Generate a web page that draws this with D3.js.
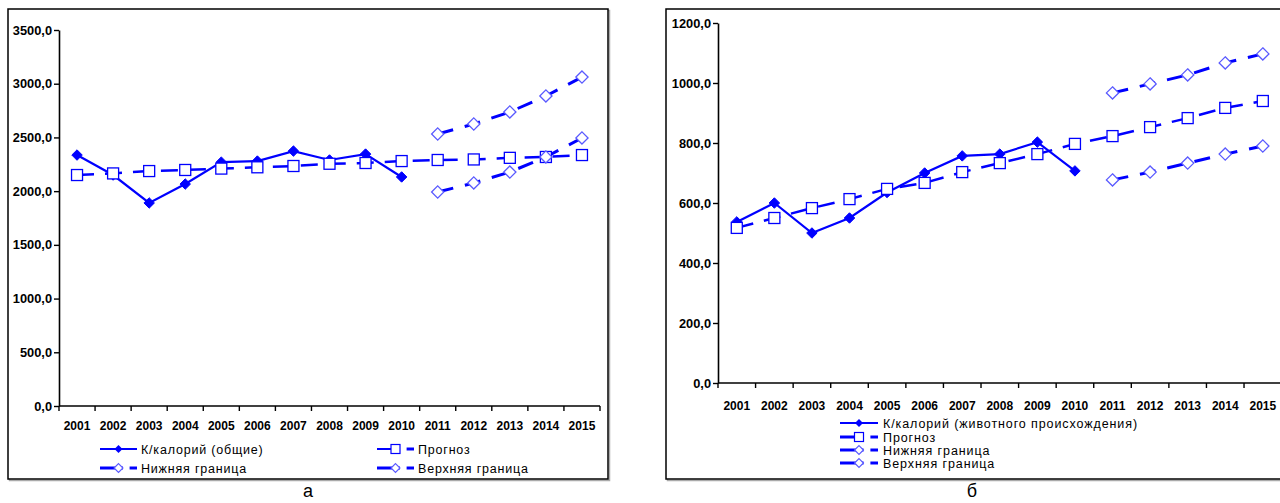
<!DOCTYPE html>
<html><head><meta charset="utf-8">
<script src="https://cdn.jsdelivr.net/npm/d3@7"></script>
<style>
body{margin:0;background:#fff;}
svg{display:block;}
text{font-family:"Liberation Sans",Arial,sans-serif;}
</style></head>
<body>
<svg id="c" width="1280" height="503"></svg>
<script>
const years = ["2001","2002","2003","2004","2005","2006","2007","2008","2009","2010","2011","2012","2013","2014","2015"];
const forecastYears = ["2011","2012","2013","2014","2015"];

// Chart a: total calories
const aActual   = [2336, 2150, 1890, 2066, 2270, 2280, 2373, 2290, 2345, 2132];
const aForecast = [2150, 2165, 2187, 2197, 2210, 2222, 2234, 2255, 2262, 2280, 2290, 2295, 2310, 2318, 2336];
const aLower    = [1992, 2076, 2178, 2318, 2495];
const aUpper    = [2532, 2625, 2737, 2886, 3062];
const aTicks    = [0, 500, 1000, 1500, 2000, 2500, 3000, 3500];

// Chart б: calories of animal origin
const bActual   = [537, 600, 500, 550, 635, 700, 757, 763, 803, 707];
const bForecast = [517, 550, 583, 613, 647, 667, 703, 733, 763, 797, 823, 853, 883, 917, 940];
const bLower    = [677, 703, 733, 763, 790];
const bUpper    = [967, 997, 1027, 1067, 1097];
const bTicks    = [0, 200, 400, 600, 800, 1000, 1200];

const aLegend = ["К/калорий (общие)", "Прогноз", "Нижняя граница", "Верхняя граница"];
const bLegend = ["К/калорий (животного происхождения)", "Прогноз", "Нижняя граница", "Верхняя граница"];

const svg = d3.select("#c");
const BLUE = "#0000ff", LIGHT = "#5a5aff";
const fmt = v => d3.format(".1f")(v).replace(".", ",");

function drawChart(cfg){
  const g = svg.append("g");
  // frame
  g.append("rect").attr("x", cfg.frame[0]+1.5).attr("y", cfg.frame[1]+1.5)
    .attr("width", cfg.frame[2]).attr("height", cfg.frame[3])
    .attr("fill","none").attr("stroke","#aaa").attr("stroke-width",1.5);
  g.append("rect").attr("x", cfg.frame[0]).attr("y", cfg.frame[1])
    .attr("width", cfg.frame[2]).attr("height", cfg.frame[3])
    .attr("fill","#fff").attr("stroke","#000").attr("stroke-width",1.5);

  const x = d3.scaleBand().domain(years).range(cfg.xr);
  const y = d3.scaleLinear().domain([0, cfg.ymax]).range(cfg.yr);
  const cx = d => x(d) + x.bandwidth()/2;

  // y axis
  const ya = g.append("g").attr("transform",`translate(${cfg.xr[0]},0)`)
    .call(d3.axisLeft(y).tickValues(cfg.ticks).tickFormat(fmt).tickSize(5).tickSizeOuter(0));
  ya.select(".domain").attr("stroke","#000").attr("stroke-width",1.6);
  ya.selectAll(".tick line").attr("stroke","#000").attr("stroke-width",1.4);
  ya.selectAll("text").attr("font-size",12.8).attr("font-weight","bold").attr("fill","#000").attr("x",-7);

  // x axis (ticks between categories)
  const xa = g.append("g").attr("transform",`translate(0,${cfg.yr[0]})`);
  xa.append("line").attr("x1",cfg.xr[0]).attr("x2",cfg.xr[1]).attr("stroke","#000").attr("stroke-width",1.6);
  const bounds = years.map(d => x(d)).concat([cfg.xr[1]]);
  xa.selectAll("line.t").data(bounds).join("line").attr("class","t")
    .attr("x1",d=>d).attr("x2",d=>d).attr("y1",0).attr("y2",5).attr("stroke","#000").attr("stroke-width",1.4);
  xa.selectAll("text").data(years).join("text")
    .attr("x", d=>cx(d)).attr("y", cfg.xlabDy).attr("text-anchor","middle")
    .attr("font-size",12).attr("font-weight","bold").text(d=>d);

  const line = d3.line().x(d=>cx(d[0])).y(d=>y(d[1]));
  const actual = cfg.actual.map((v,i)=>[years[i], v]);
  const fc = cfg.forecast.map((v,i)=>[years[i], v]);
  const lo = cfg.lower.map((v,i)=>[forecastYears[i], v]);
  const up = cfg.upper.map((v,i)=>[forecastYears[i], v]);

  g.append("path").attr("d", line(fc)).attr("fill","none").attr("stroke",BLUE)
    .attr("stroke-width",2.5).attr("stroke-dasharray","17,11");
  g.append("path").attr("d", line(lo)).attr("fill","none").attr("stroke",BLUE)
    .attr("stroke-width",3).attr("stroke-dasharray","16,12");
  g.append("path").attr("d", line(up)).attr("fill","none").attr("stroke",BLUE)
    .attr("stroke-width",3).attr("stroke-dasharray","16,12");
  g.append("path").attr("d", line(actual)).attr("fill","none").attr("stroke",BLUE).attr("stroke-width",2.2);

  const dia = d3.symbol().type(d3.symbolDiamond2);
  g.selectAll("path.act").data(actual).join("path").attr("class","act")
    .attr("d", dia.size(70)()).attr("transform", d=>`translate(${cx(d[0])},${y(d[1])})`)
    .attr("fill",BLUE).attr("stroke",BLUE);
  g.selectAll("rect.fc").data(fc).join("rect").attr("class","fc")
    .attr("x", d=>cx(d[0])-5.5).attr("y", d=>y(d[1])-5.5).attr("width",11).attr("height",11)
    .attr("fill","#fff").attr("stroke",BLUE).attr("stroke-width",1.3);
  [lo, up].forEach(arr=>{
    g.selectAll(null).data(arr).join("path")
      .attr("d", d3.symbol().type(d3.symbolDiamond2).size(95)())
      .attr("transform", d=>`translate(${cx(d[0])},${y(d[1])})`)
      .attr("fill","#fff").attr("stroke",LIGHT).attr("stroke-width",1.3);
  });

  // legend
  const kinds = ["act","fc","lo","up"];
  cfg.legend.forEach((t,i)=>{
    const p = cfg.legPos[i];
    const lg = g.append("g").attr("transform",`translate(${p[0]},${p[1]})`);
    const k = kinds[i];
    const w = cfg.legW;
    if(k==="act"){
      lg.append("line").attr("x1",0).attr("x2",w).attr("stroke",BLUE).attr("stroke-width",2);
      lg.append("path").attr("d",dia.size(40)()).attr("transform",`translate(${w/2},0)`).attr("fill",BLUE);
    } else {
      const sw = k==="fc" ? cfg.fcLegW : 3;
      lg.append("line").attr("x1",0).attr("x2",w*0.62).attr("stroke",BLUE).attr("stroke-width",sw);
      lg.append("line").attr("x1",w*0.8).attr("x2",w).attr("stroke",BLUE).attr("stroke-width",3);
      if(k==="fc"){
        lg.append("rect").attr("x",w/2-4.5).attr("y",-4.5).attr("width",9).attr("height",9)
          .attr("fill","#fff").attr("stroke",BLUE).attr("stroke-width",1.2);
      } else {
        lg.append("path").attr("d",d3.symbol().type(d3.symbolDiamond2).size(50)())
          .attr("transform",`translate(${w/2},0)`).attr("fill","#fff").attr("stroke",LIGHT).attr("stroke-width",1.2);
      }
    }
    lg.append("text").attr("x",w+cfg.textGap).attr("y",4.5).attr("font-size",cfg.legFont)
      .attr("letter-spacing",cfg.legLS).attr("fill","#000").text(t);
  });

  svg.append("text").attr("x",cfg.cap[0]).attr("y",cfg.cap[1]).attr("text-anchor","middle")
    .attr("font-size",18).attr("fill","#000").text(cfg.capText);
}

drawChart({
  frame:[8,9,600,470], xr:[59,600], yr:[406,30], ymax:3500, ticks:aTicks, xlabDy:23.5,
  actual:aActual, forecast:aForecast, lower:aLower, upper:aUpper, legend:aLegend,
  legPos:[[100,449],[377,449],[100,468],[377,468]], legW:37, fcLegW:2, textGap:4, legFont:12.5, legLS:0.8,
  cap:[308,497], capText:"а"
});
drawChart({
  frame:[666,9,620,470], xr:[718,1281.6], yr:[383,23], ymax:1200, ticks:bTicks, xlabDy:26.5,
  actual:bActual, forecast:bForecast, lower:bLower, upper:bUpper, legend:bLegend,
  legPos:[[840,423],[840,437],[840,450],[840,463]], legW:38, fcLegW:3, textGap:5, legFont:12.5, legLS:0.9,
  cap:[972,497], capText:"б"
});
</script>
</body></html>
